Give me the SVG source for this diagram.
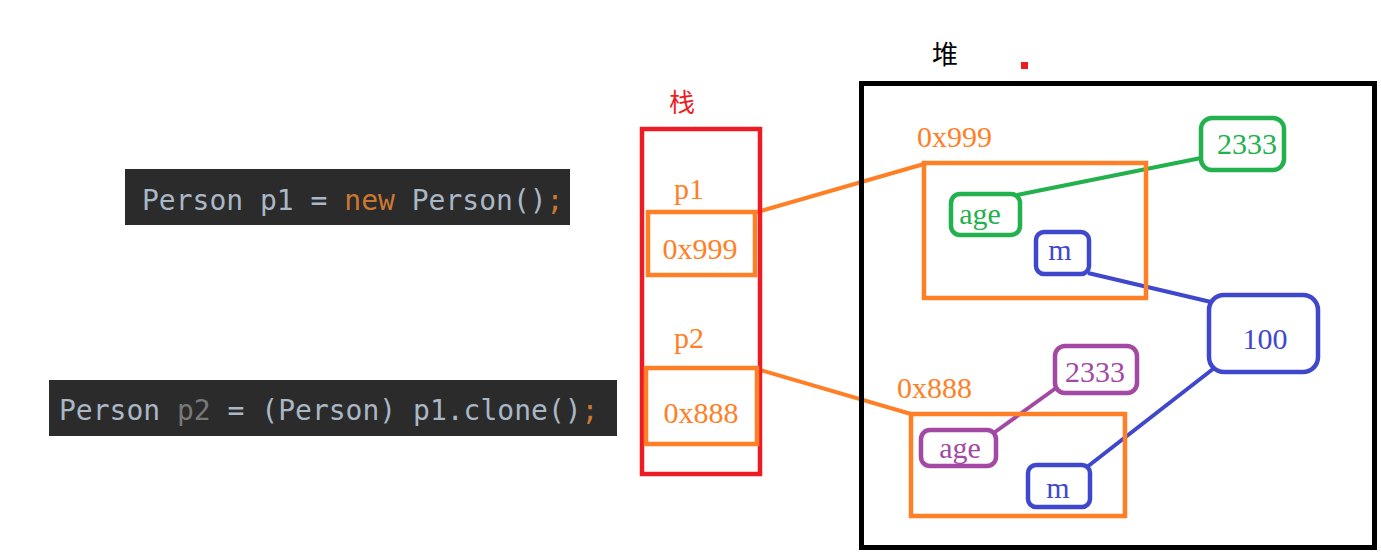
<svg xmlns="http://www.w3.org/2000/svg" width="1381" height="560" viewBox="0 0 1381 560">
<style>
.code{font-family:"DejaVu Sans Mono","Liberation Mono",monospace;font-size:28px;fill:#a9b7c6}
.kw{fill:#cc7832}
.gray{fill:#787878}
.s{font-family:"Liberation Serif","Noto Sans CJK SC",serif;font-size:30px}
.cjk{font-family:"Liberation Serif","Noto Sans CJK SC",serif;font-size:26px}
.or{fill:#ff7f27}
.gr{fill:#22b14c}
.bl{fill:#3f48cc}
.pu{fill:#a349a4}
.box{fill:none;stroke-width:4.5}
.line{stroke-width:4;fill:none}
</style>
<rect width="1381" height="560" fill="#ffffff"/>
<g id="code1">
<rect x="125" y="169" width="445" height="56" fill="#2b2b2b"/>
<text class="code" x="142" y="210">Person p1 = <tspan class="kw">new</tspan> Person()<tspan class="kw">;</tspan></text>
</g>
<g id="code2">
<rect x="49" y="380" width="568" height="56" fill="#2b2b2b"/>
<text class="code" x="59" y="420">Person <tspan class="gray">p2</tspan> = (Person) p1.clone()<tspan class="kw">;</tspan></text>
</g>
<g id="connectors">
<line class="line" x1="754" y1="213" x2="924" y2="164" stroke="#ff7f27"/>
<line class="line" x1="757" y1="369" x2="911" y2="414" stroke="#ff7f27"/>
<line class="line" x1="1017" y1="195" x2="1201" y2="158" stroke="#22b14c"/>
<line class="line" x1="1088" y1="273" x2="1211" y2="302" stroke="#3f48cc"/>
<line class="line" x1="1087" y1="467" x2="1213" y2="369" stroke="#3f48cc"/>
<line class="line" x1="995" y1="432" x2="1056" y2="388" stroke="#a349a4"/>
</g>
<g id="stack">
<text class="cjk" x="669" y="112" fill="#ed1c24">栈</text>
<rect x="642" y="129" width="118" height="345" fill="none" stroke="#ed1c24" stroke-width="4.5"/>
</g>
<g id="p1">
<text class="s or" x="674" y="199">p1</text>
<rect class="box" x="648" y="212" width="107" height="63" stroke="#ff7f27"/>
<text class="s or" x="700" y="259" text-anchor="middle">0x999</text>
</g>
<g id="p2">
<text class="s or" x="674" y="348">p2</text>
<rect class="box" x="646" y="368" width="111" height="76" stroke="#ff7f27" stroke-width="5"/>
<text class="s or" x="701" y="423" text-anchor="middle">0x888</text>
</g>
<g id="heap">
<text class="cjk" x="932" y="64" fill="#000000">堆</text>
<rect x="1021" y="62" width="7" height="7" fill="#ed1c24"/>
<rect x="861.5" y="83.5" width="513" height="464" fill="none" stroke="#000000" stroke-width="5"/>
</g>
<g id="obj1">
<text class="s or" x="917" y="147">0x999</text>
<rect class="box" x="924" y="163" width="222" height="135" stroke="#ff7f27"/>
</g>
<g id="age1">
<rect class="box" x="951" y="194" width="69" height="41" rx="9" stroke="#22b14c"/>
<text class="s gr" x="980" y="224" text-anchor="middle">age</text>
</g>
<g id="val2333a">
<rect class="box" x="1201" y="118" width="83" height="52" rx="11" stroke="#22b14c" stroke-width="5"/>
<text class="s gr" x="1247" y="154" text-anchor="middle">2333</text>
</g>
<g id="m1">
<rect class="box" x="1036" y="232" width="53" height="42" rx="8" stroke="#3f48cc"/>
<text class="s bl" x="1060" y="260" text-anchor="middle" font-size="28">m</text>
</g>
<g id="val100">
<rect class="box" x="1209" y="295" width="109" height="77" rx="15" stroke="#3f48cc" stroke-width="5"/>
<text class="s bl" x="1265" y="349" text-anchor="middle">100</text>
</g>
<g id="obj2">
<text class="s or" x="897" y="398">0x888</text>
<rect class="box" x="911" y="414" width="214" height="102" stroke="#ff7f27"/>
</g>
<g id="age2">
<rect class="box" x="921" y="430" width="75" height="36" rx="9" stroke="#a349a4"/>
<text class="s pu" x="960" y="458" text-anchor="middle">age</text>
</g>
<g id="val2333b">
<rect class="box" x="1055" y="346" width="82" height="47" rx="10" stroke="#a349a4"/>
<text class="s pu" x="1095" y="382" text-anchor="middle">2333</text>
</g>
<g id="m2">
<rect class="box" x="1028" y="465" width="62" height="42" rx="8" stroke="#3f48cc"/>
<text class="s bl" x="1058" y="498" text-anchor="middle" font-size="28">m</text>
</g>
</svg>
